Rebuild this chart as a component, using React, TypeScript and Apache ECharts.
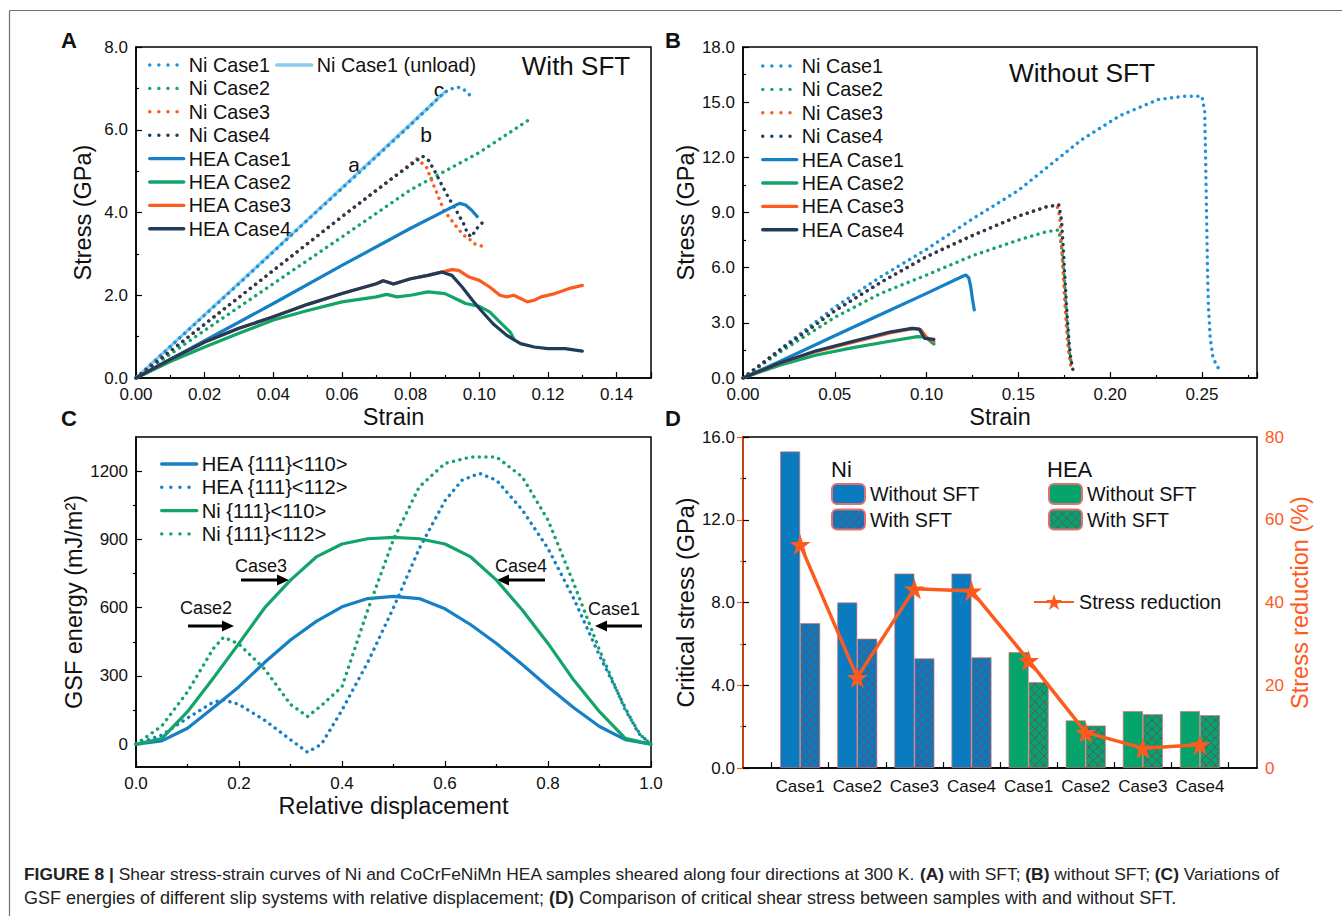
import React, { useEffect, useRef } from 'react';
import * as echarts from 'echarts';

const FONT = '"Liberation Sans", Arial, Helvetica, sans-serif';

// ---------- colours ----------
const NI_BLUE = '#1b92da';
const UNLOAD = '#8ecaee';
const HEA_BLUE = '#1580c6';
const GREEN = '#12a468';
const ORANGE = '#fd5a1e';
const NAVY = '#1f3c5b';
const BAR_BLUE = '#0b7bc0';
const BAR_GREEN = '#05a46c';

type P = [number, number][];

// ---------- Panel A (with SFT): [strain, stress GPa] ----------
const aNiCase1: P = [[0, 0], [0.01, 0.76], [0.02, 1.52], [0.03, 2.28], [0.04, 3.05], [0.05, 3.82], [0.06, 4.58], [0.07, 5.35], [0.08, 6.12], [0.0898, 6.9], [0.0915, 6.98], [0.0937, 7.03], [0.0954, 6.98], [0.0977, 6.8]];
const aNiCase1Unload: P = [[0, 0], [0.02, 1.53], [0.04, 3.06], [0.06, 4.6], [0.08, 6.14], [0.0898, 6.9]];
const aNiCase2: P = [[0, 0], [0.02, 1.15], [0.04, 2.28], [0.06, 3.41], [0.08, 4.55], [0.1, 5.45], [0.115, 6.27]];
const aNiCase3: P = [[0, 0], [0.02, 1.3], [0.04, 2.6], [0.06, 3.9], [0.075, 4.85], [0.0818, 5.3], [0.0846, 5.1], [0.0857, 4.86], [0.0897, 4.05], [0.093, 3.69], [0.0954, 3.45], [0.097, 3.37], [0.0983, 3.25], [0.101, 3.18]];
const aNiCase4: P = [[0, 0], [0.02, 1.3], [0.04, 2.6], [0.06, 3.9], [0.075, 4.85], [0.0835, 5.36], [0.0852, 5.26], [0.0869, 5.02], [0.0886, 4.74], [0.0909, 4.38], [0.0932, 4.06], [0.0954, 3.73], [0.0966, 3.49], [0.0977, 3.41], [0.0989, 3.57], [0.1, 3.69], [0.1017, 3.81]];
const aHeaCase1: P = [[0, 0], [0.02, 0.9], [0.04, 1.8], [0.06, 2.72], [0.08, 3.62], [0.0932, 4.18], [0.0943, 4.22], [0.096, 4.18], [0.0977, 4.06], [0.0994, 3.9]];
const aHeaCase2: P = [[0, 0], [0.01, 0.4], [0.02, 0.75], [0.03, 1.08], [0.04, 1.4], [0.05, 1.63], [0.06, 1.84], [0.07, 1.96], [0.073, 2.02], [0.076, 1.96], [0.08, 2.0], [0.085, 2.08], [0.09, 2.04], [0.093, 1.92], [0.096, 1.8], [0.1, 1.73], [0.103, 1.6], [0.106, 1.35], [0.109, 1.11], [0.11, 0.95]];
const aHeaCase3: P = [[0, 0], [0.01, 0.45], [0.02, 0.87], [0.03, 1.2], [0.04, 1.48], [0.05, 1.78], [0.06, 2.04], [0.07, 2.28], [0.072, 2.35], [0.075, 2.27], [0.08, 2.4], [0.085, 2.48], [0.089, 2.56], [0.092, 2.62], [0.094, 2.6], [0.097, 2.44], [0.1, 2.36], [0.103, 2.2], [0.106, 2.0], [0.108, 1.96], [0.11, 2.0], [0.112, 1.92], [0.114, 1.84], [0.116, 1.88], [0.118, 1.96], [0.122, 2.04], [0.126, 2.16], [0.13, 2.24]];
const aHeaCase4: P = [[0, 0], [0.01, 0.45], [0.02, 0.87], [0.03, 1.2], [0.04, 1.48], [0.05, 1.78], [0.06, 2.04], [0.07, 2.28], [0.072, 2.35], [0.075, 2.27], [0.08, 2.4], [0.085, 2.48], [0.089, 2.56], [0.092, 2.48], [0.095, 2.2], [0.098, 1.88], [0.1, 1.68], [0.104, 1.31], [0.108, 1.03], [0.112, 0.83], [0.116, 0.75], [0.12, 0.71], [0.125, 0.71], [0.13, 0.65]];

// ---------- Panel B (without SFT) ----------
const bNiCase1: P = [[0, 0], [0.02, 1.55], [0.05, 3.85], [0.075, 5.5], [0.1, 7.0], [0.125, 8.65], [0.15, 10.2], [0.1845, 12.96], [0.2054, 14.27], [0.2264, 15.15], [0.24, 15.32], [0.25, 15.32], [0.2515, 14.5], [0.252, 12.0], [0.2525, 9.0], [0.253, 6.0], [0.2535, 4.0], [0.2545, 2.2], [0.256, 1.1], [0.2585, 0.6], [0.26, 0.4]];
const bNiCase2: P = [[0, 0], [0.02, 1.4], [0.05, 3.3], [0.075, 4.6], [0.1, 5.6], [0.125, 6.65], [0.15, 7.5], [0.165, 7.95], [0.172, 8.05], [0.1735, 7.2], [0.175, 5.5], [0.176, 3.8], [0.177, 2.4], [0.178, 1.3], [0.179, 0.7]];
const bNiCase3: P = [[0, 0], [0.02, 1.5], [0.05, 3.65], [0.075, 5.2], [0.1, 6.6], [0.125, 7.75], [0.15, 8.8], [0.165, 9.3], [0.171, 9.4], [0.1725, 8.8], [0.1735, 7.2], [0.1745, 5.5], [0.1755, 3.8], [0.1765, 2.3], [0.1775, 1.3], [0.1785, 0.7]];
const bNiCase4: P = [[0, 0], [0.02, 1.5], [0.05, 3.65], [0.075, 5.2], [0.1, 6.6], [0.125, 7.75], [0.15, 8.8], [0.165, 9.3], [0.172, 9.42], [0.1735, 8.6], [0.1745, 7.0], [0.1755, 5.2], [0.1765, 3.5], [0.1775, 2.1], [0.1785, 1.1], [0.18, 0.3]];
const bHeaCase1: P = [[0, 0], [0.02, 0.9], [0.05, 2.3], [0.075, 3.45], [0.1, 4.6], [0.12, 5.55], [0.1215, 5.6], [0.123, 5.45], [0.124, 5.0], [0.125, 4.3], [0.126, 3.7]];
const bHeaCase2: P = [[0, 0], [0.02, 0.7], [0.04, 1.25], [0.06, 1.65], [0.08, 2.0], [0.095, 2.25], [0.1, 2.22], [0.102, 2.0], [0.104, 1.85]];
const bHeaCase3: P = [[0, 0], [0.02, 0.8], [0.04, 1.45], [0.06, 1.95], [0.08, 2.45], [0.093, 2.7], [0.097, 2.62], [0.1, 2.2], [0.104, 1.98]];
const bHeaCase4: P = [[0, 0], [0.02, 0.82], [0.04, 1.48], [0.06, 2.0], [0.08, 2.5], [0.092, 2.7], [0.096, 2.66], [0.099, 2.15], [0.104, 2.1]];

// ---------- Panel C (GSF energy, mJ/m^2) ----------
const cHea110: P = [[0, 0], [0.05, 15], [0.1, 70], [0.15, 160], [0.2, 253], [0.25, 360], [0.3, 458], [0.35, 540], [0.4, 604], [0.45, 640], [0.5, 650], [0.55, 640], [0.6, 595], [0.65, 525], [0.7, 443], [0.75, 350], [0.8, 253], [0.85, 160], [0.9, 78], [0.95, 20], [1, 0]];
const cHea112: P = [[0, 0], [0.05, 40], [0.1, 115], [0.15, 185], [0.17, 195], [0.2, 175], [0.25, 105], [0.3, 20], [0.333, -35], [0.36, 0], [0.4, 150], [0.45, 360], [0.5, 600], [0.55, 860], [0.6, 1070], [0.633, 1160], [0.667, 1190], [0.7, 1160], [0.75, 1030], [0.8, 860], [0.85, 640], [0.9, 390], [0.95, 160], [0.975, 50], [1, 0]];
const cNi110: P = [[0, 0], [0.05, 25], [0.1, 143], [0.15, 290], [0.2, 443], [0.25, 600], [0.3, 721], [0.35, 823], [0.4, 880], [0.45, 903], [0.5, 909], [0.55, 903], [0.6, 880], [0.65, 823], [0.7, 721], [0.75, 590], [0.8, 443], [0.85, 282], [0.9, 143], [0.95, 26], [1, 0]];
const cNi112: P = [[0, 0], [0.05, 80], [0.1, 230], [0.15, 420], [0.17, 470], [0.2, 440], [0.25, 330], [0.3, 175], [0.333, 122], [0.36, 170], [0.4, 253], [0.45, 590], [0.5, 900], [0.55, 1131], [0.6, 1234], [0.65, 1262], [0.7, 1262], [0.75, 1175], [0.8, 985], [0.85, 707], [0.9, 414], [0.95, 150], [0.98, 40], [1, 0]];

// ---------- Panel D ----------
const dCategories = ['Case1', 'Case2', 'Case3', 'Case4', 'Case1', 'Case2', 'Case3', 'Case4'];
const dNiWithout = [15.3, 8.0, 9.4, 9.4, '-', '-', '-', '-'];
const dNiWith = [7.0, 6.25, 5.3, 5.35, '-', '-', '-', '-'];
const dHeaWithout = ['-', '-', '-', '-', 5.6, 2.3, 2.75, 2.75];
const dHeaWith = ['-', '-', '-', '-', 4.15, 2.05, 2.6, 2.55];
const dReduction = [54.0, 21.9, 43.3, 42.8, 26.0, 8.6, 4.8, 5.6];

const STAR = 'path://M50 2 L61.8 37.6 L99 37.6 L69 59.6 L80.4 95 L50 73 L19.6 95 L31 59.6 L1 37.6 L38.2 37.6 Z';

function hatch(bg: string) {
  const svg = `<svg xmlns="http://www.w3.org/2000/svg" width="9" height="9"><rect width="9" height="9" fill="${bg}"/><path d="M0 0L9 9M9 0L0 9" stroke="#6e4a63" stroke-width="0.9"/></svg>`;
  return { image: 'data:image/svg+xml;charset=utf-8,' + encodeURIComponent(svg), repeat: 'repeat', imageWidth: 9, imageHeight: 9 } as any;
}

const DOT = [0.1, 6.5];
function dotted(name: string, data: P, color: string, xi: number) {
  return { name, type: 'line', xAxisIndex: xi, yAxisIndex: xi, data, symbol: 'none', showSymbol: false, silent: true,
    lineStyle: { color, width: 3.4, type: DOT, cap: 'round' }, itemStyle: { color } };
}
function solid(name: string, data: P, color: string, xi: number, w = 3.2) {
  return { name, type: 'line', xAxisIndex: xi, yAxisIndex: xi, data, symbol: 'none', showSymbol: false, silent: true,
    lineStyle: { color, width: w, cap: 'round', join: 'round' }, itemStyle: { color } };
}

const NAME_SIZE = 23.5;
const lineAxisBase = (o: any) => ({
  type: 'value',
  axisLine: { show: true, onZero: false, lineStyle: { color: '#000', width: 1.5 } },
  axisTick: { show: true, inside: true, length: 6, lineStyle: { color: '#000', width: 1.2 } },
  minorTick: { show: true, splitNumber: 2, length: 3, lineStyle: { color: '#000', width: 1.2 } },
  splitLine: { show: false },
  minorSplitLine: { show: false },
  nameLocation: 'middle',
  nameTextStyle: { color: '#111', fontSize: NAME_SIZE, fontFamily: FONT },
  ...o,
  axisLabel: { color: '#111', fontSize: 17, fontFamily: FONT, margin: 8, ...(o.axisLabel || {}) },
});

function arrow(x1: number, x2: number, y: number) {
  const dir = x2 > x1 ? 1 : -1;
  const head = 12;
  return [
    { type: 'line', shape: { x1, y1: y, x2: x2 - dir * head, y2: y }, style: { stroke: '#000', lineWidth: 3 } },
    { type: 'polygon', shape: { points: [[x2, y], [x2 - dir * head, y - 5.5], [x2 - dir * head, y + 5.5]] }, style: { fill: '#000' } },
  ];
}

function txt(x: number, y: number, text: string, size: number, extra: any = {}) {
  return { type: 'text', x, y, style: { text, fontSize: size, fontFamily: FONT, fill: '#111', align: 'center', verticalAlign: 'middle', ...extra } };
}

const legendLineNames = ['Ni Case1', 'Ni Case2', 'Ni Case3', 'Ni Case4', 'HEA Case1', 'HEA Case2', 'HEA Case3', 'HEA Case4'];

export default function App() {
  const ref = useRef<HTMLDivElement>(null);
  useEffect(() => {
    if (!ref.current) return;
    const chart = echarts.init(ref.current, undefined, { renderer: 'svg' });
    const legendCommon = {
      orient: 'vertical', itemWidth: 34, itemHeight: 14, itemGap: 3.4, selectedMode: false, padding: 0,
      textStyle: { fontSize: 19.8, fontFamily: FONT, color: '#111', lineHeight: 20 },
      lineStyle: { width: 3.4, cap: 'round' },
      itemStyle: { opacity: 0 },
    };
    const lineLegendData = legendLineNames.map((n) => (n.startsWith('Ni') ? { name: n, lineStyle: { type: [0.1, 9] } } : { name: n }));
    const dLegendText = { fontSize: 19.7, fontFamily: FONT, color: '#111', lineHeight: 20 };

    const option: any = {
      animation: false,
      backgroundColor: '#fff',
      textStyle: { fontFamily: FONT },
      grid: [
        { left: 136, top: 47, width: 515, height: 331, show: true, borderColor: '#000', borderWidth: 1.5, backgroundColor: 'transparent' },
        { left: 743, top: 47, width: 514, height: 331, show: true, borderColor: '#000', borderWidth: 1.5, backgroundColor: 'transparent' },
        { left: 136, top: 437, width: 515, height: 330, show: true, borderColor: '#000', borderWidth: 1.5, backgroundColor: 'transparent' },
        { left: 771.6, top: 437, width: 456.9, height: 331, show: false },
        { left: 743, top: 437, width: 514, height: 331, show: true, borderColor: '#000', borderWidth: 1.5, backgroundColor: 'transparent' },
      ],
      xAxis: [
        lineAxisBase({ gridIndex: 0, min: 0, max: 0.15, interval: 0.02, name: 'Strain', nameGap: 27,
          axisLabel: { showMaxLabel: false, formatter: (v: number) => v.toFixed(2) } }),
        lineAxisBase({ gridIndex: 1, min: 0, max: 0.28, interval: 0.05, name: 'Strain', nameGap: 27,
          axisLabel: { showMaxLabel: false, formatter: (v: number) => v.toFixed(2) } }),
        lineAxisBase({ gridIndex: 2, min: 0, max: 1, interval: 0.2, name: 'Relative displacement', nameGap: 27,
          axisLabel: { formatter: (v: number) => v.toFixed(1) } }),
        { type: 'category', gridIndex: 3, data: dCategories, boundaryGap: true,
          axisLine: { show: false },
          axisTick: { show: true, inside: true, length: 6, alignWithLabel: false, lineStyle: { color: '#000', width: 1.2 } },
          axisLabel: { color: '#111', fontSize: 17, fontFamily: FONT, margin: 10, interval: 0 },
          splitLine: { show: false } },
        { type: 'value', gridIndex: 4, min: 0, max: 1, axisLine: { show: true, lineStyle: { color: '#000', width: 1.5 } },
          axisTick: { show: false }, axisLabel: { show: false }, splitLine: { show: false } },
      ],
      yAxis: [
        lineAxisBase({ gridIndex: 0, min: 0, max: 8, interval: 2, name: 'Stress (GPa)', nameGap: 41,
          axisLabel: { formatter: (v: number) => v.toFixed(1) } }),
        lineAxisBase({ gridIndex: 1, min: 0, max: 18, interval: 3, name: 'Stress (GPa)', nameGap: 43,
          axisLabel: { formatter: (v: number) => v.toFixed(1) } }),
        lineAxisBase({ gridIndex: 2, min: -100, max: 1350, name: 'GSF energy (mJ/m²)', nameGap: 42,
          minorTick: { show: false },
          axisTick: { show: true, inside: true, length: 6, customValues: [0, 300, 600, 900, 1200], lineStyle: { color: '#000', width: 1.2 } },
          axisLabel: { customValues: [0, 300, 600, 900, 1200], formatter: (v: number) => String(v) } }),
        { type: 'value', gridIndex: 2, min: -100, max: 1350, axisLine: { show: false },
          axisTick: { show: true, inside: true, length: 3, customValues: [150, 450, 750, 1050], lineStyle: { color: '#000', width: 1.2 } },
          axisLabel: { show: false }, splitLine: { show: false } },
        { type: 'value', gridIndex: 3, min: 0, max: 16, show: false, splitLine: { show: false } },
        { type: 'value', gridIndex: 3, min: 0, max: 80, show: false, position: 'right', splitLine: { show: false } },
        lineAxisBase({ gridIndex: 4, min: 0, max: 16, interval: 4, name: 'Critical stress (GPa)', nameGap: 43,
          axisLabel: { formatter: (v: number) => v.toFixed(1) } }),
        lineAxisBase({ gridIndex: 4, min: 0, max: 80, interval: 20, position: 'right', name: 'Stress reduction (%)', nameGap: 28,
          axisLine: { show: true, lineStyle: { color: ORANGE, width: 1.5 } },
          axisTick: { show: true, inside: true, length: 6, lineStyle: { color: ORANGE, width: 1.2 } },
          minorTick: { show: true, splitNumber: 2, length: 3, lineStyle: { color: ORANGE, width: 1.2 } },
          nameTextStyle: { color: ORANGE, fontSize: NAME_SIZE, fontFamily: FONT },
          axisLabel: { color: ORANGE, formatter: (v: number) => String(v) } }),
      ],
      legend: [
        { ...legendCommon, left: 148, top: 55, data: lineLegendData },
        { ...legendCommon, left: 275, top: 55, itemWidth: 35, data: ['Ni Case1 (unload)'] },
        { ...legendCommon, left: 761, top: 56, data: lineLegendData },
        { ...legendCommon, left: 160, top: 454, itemWidth: 35, itemGap: 3.3, textStyle: { ...legendCommon.textStyle, fontSize: 20.2 },
          data: [{ name: 'HEA {111}<110>' }, { name: 'HEA {111}<112>', lineStyle: { type: [0.1, 9] } }, { name: 'Ni {111}<110>' }, { name: 'Ni {111}<112>', lineStyle: { type: [0.1, 9] } }] },
        { orient: 'vertical', left: 831, top: 483, padding: 0, itemWidth: 33, itemHeight: 20, itemGap: 3.5, selectedMode: false,
          textStyle: dLegendText, formatter: (n: string) => n.replace(/^(Ni|HEA) /, ''), data: ['Ni Without SFT', 'Ni With SFT'] },
        { orient: 'vertical', left: 1048, top: 483, padding: 0, itemWidth: 33, itemHeight: 20, itemGap: 3.5, selectedMode: false,
          textStyle: dLegendText, formatter: (n: string) => n.replace(/^(Ni|HEA) /, ''), data: ['HEA Without SFT', 'HEA With SFT'] },
        { orient: 'vertical', left: 1033, top: 592, padding: 0, itemWidth: 40, itemHeight: 20, selectedMode: false,
          textStyle: dLegendText, data: ['Stress reduction'] },
      ],
      series: [
        // Panel A
        solid('Ni Case1 (unload)', aNiCase1Unload, UNLOAD, 0, 3.2),
        dotted('Ni Case1', aNiCase1, NI_BLUE, 0),
        dotted('Ni Case2', aNiCase2, GREEN, 0),
        dotted('Ni Case3', aNiCase3, ORANGE, 0),
        dotted('Ni Case4', aNiCase4, NAVY, 0),
        solid('HEA Case1', aHeaCase1, HEA_BLUE, 0),
        solid('HEA Case2', aHeaCase2, GREEN, 0),
        solid('HEA Case3', aHeaCase3, ORANGE, 0),
        solid('HEA Case4', aHeaCase4, NAVY, 0),
        // Panel B
        dotted('Ni Case1', bNiCase1, NI_BLUE, 1),
        dotted('Ni Case2', bNiCase2, GREEN, 1),
        dotted('Ni Case3', bNiCase3, ORANGE, 1),
        dotted('Ni Case4', bNiCase4, NAVY, 1),
        solid('HEA Case1', bHeaCase1, HEA_BLUE, 1),
        solid('HEA Case2', bHeaCase2, GREEN, 1),
        solid('HEA Case3', bHeaCase3, ORANGE, 1),
        solid('HEA Case4', bHeaCase4, NAVY, 1),
        // Panel C
        { ...solid('HEA {111}<110>', cHea110, HEA_BLUE, 2), yAxisIndex: 2 },
        { ...dotted('HEA {111}<112>', cHea112, HEA_BLUE, 2), yAxisIndex: 2 },
        { ...solid('Ni {111}<110>', cNi110, GREEN, 2), yAxisIndex: 2 },
        { ...dotted('Ni {111}<112>', cNi112, GREEN, 2), yAxisIndex: 2 },
        // Panel D
        { name: 'Ni Without SFT', type: 'bar', xAxisIndex: 3, yAxisIndex: 4, stack: 'wo', data: dNiWithout, barWidth: 20, barGap: '0%', silent: true,
          itemStyle: { color: BAR_BLUE, borderColor: '#e07070', borderWidth: 0.7 } },
        { name: 'HEA Without SFT', type: 'bar', xAxisIndex: 3, yAxisIndex: 4, stack: 'wo', data: dHeaWithout, barWidth: 20, barGap: '0%', silent: true,
          itemStyle: { color: BAR_GREEN, borderColor: '#e07070', borderWidth: 0.7 } },
        { name: 'Ni With SFT', type: 'bar', xAxisIndex: 3, yAxisIndex: 4, stack: 'w', data: dNiWith, barWidth: 20, barGap: '0%', silent: true,
          itemStyle: { color: hatch(BAR_BLUE), borderColor: '#e07070', borderWidth: 0.7 } },
        { name: 'HEA With SFT', type: 'bar', xAxisIndex: 3, yAxisIndex: 4, stack: 'w', data: dHeaWith, barWidth: 20, barGap: '0%', silent: true,
          itemStyle: { color: hatch(BAR_GREEN), borderColor: '#e07070', borderWidth: 0.7 } },
        { name: 'Stress reduction', type: 'line', xAxisIndex: 3, yAxisIndex: 5, data: dReduction, silent: true,
          symbol: STAR, symbolSize: 21, showSymbol: true,
          lineStyle: { color: ORANGE, width: 3.5 }, itemStyle: { color: ORANGE } },
      ],
      graphic: [
        { type: 'line', shape: { x1: 9.5, y1: 10.5, x2: 1342, y2: 10.5 }, style: { stroke: '#6f6f6f', lineWidth: 1.2 } },
        { type: 'line', shape: { x1: 9.5, y1: 10.5, x2: 9.5, y2: 916 }, style: { stroke: '#6f6f6f', lineWidth: 1.2 } },
        txt(69, 40, 'A', 22, { fontWeight: 'bold' }),
        txt(673, 40, 'B', 22, { fontWeight: 'bold' }),
        txt(69, 418, 'C', 22, { fontWeight: 'bold' }),
        txt(673, 418, 'D', 22, { fontWeight: 'bold' }),
        txt(576, 66, 'With SFT', 26),
        txt(1082, 73, 'Without SFT', 26.3),
        txt(354, 164, 'a', 21),
        txt(426, 134, 'b', 21),
        txt(439, 89, 'c', 21),
        txt(206, 608, 'Case2', 18),
        txt(261, 566, 'Case3', 18),
        txt(521, 566, 'Case4', 18),
        txt(614, 609, 'Case1', 18),
        ...arrow(188, 234, 626),
        ...arrow(241, 289, 580),
        ...arrow(545, 497, 580),
        ...arrow(642, 595, 626),
        txt(831, 469, 'Ni', 22, { align: 'left' }),
        txt(1047, 469, 'HEA', 22, { align: 'left' }),
        { type: 'text', x: 24, y: 874, style: { fontFamily: FONT, fontSize: 17.4, fill: '#222', verticalAlign: 'middle',
          text: '{b|FIGURE 8 | }Shear stress-strain curves of Ni and CoCrFeNiMn HEA samples sheared along four directions at 300 K. {b|(A)} with SFT; {b|(B)} without SFT; {b|(C)} Variations of',
          rich: { b: { fontWeight: 'bold', fontFamily: FONT, fontSize: 17.4, fill: '#222' } } } },
        { type: 'text', x: 24, y: 898, style: { fontFamily: FONT, fontSize: 18, fill: '#222', verticalAlign: 'middle',
          text: 'GSF energies of different slip systems with relative displacement; {b|(D)} Comparison of critical shear stress between samples with and without SFT.',
          rich: { b: { fontWeight: 'bold', fontFamily: FONT, fontSize: 18, fill: '#222' } } } },
      ],
    };
    chart.setOption(option);
    return () => chart.dispose();
  }, []);
  return <div ref={ref} style={{ position: 'absolute', left: 0, top: 0, width: 1342, height: 916, background: '#fff' }} />;
}
